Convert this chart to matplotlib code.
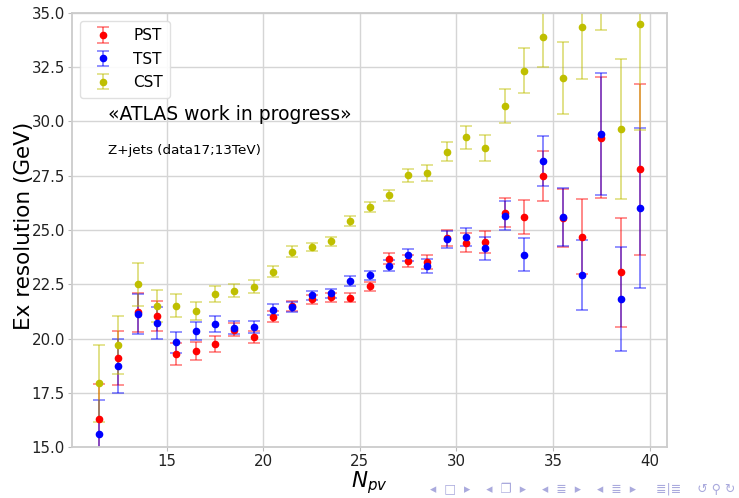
import matplotlib
matplotlib.use('Agg')
import matplotlib.pyplot as plt
import numpy as np

npv = np.arange(11.5, 40, 1.0)

pst = [16.3, 19.1, 21.2, 21.05, 19.3, 19.42, 19.75, 20.4, 20.05, 21.0,
       21.5, 21.8, 21.9, 21.88, 22.4, 23.68, 23.56, 23.53, 24.63, 24.42,
       24.45, 25.8, 25.6, 27.5, 25.55, 24.7, 29.25, 23.05, 27.8]
pst_err = [1.6, 1.25, 0.9, 0.7, 0.5, 0.42, 0.36, 0.3, 0.28, 0.25,
           0.22, 0.2, 0.2, 0.2, 0.22, 0.25, 0.28, 0.32, 0.38, 0.44,
           0.52, 0.68, 0.8, 1.15, 1.34, 1.72, 2.79, 2.5, 3.95]

tst = [15.6, 18.73, 21.13, 20.72, 19.82, 20.35, 20.67, 20.5, 20.53, 21.33,
       21.45, 21.99, 22.08, 22.64, 22.91, 23.36, 23.83, 23.33, 24.57, 24.69,
       24.16, 25.65, 23.86, 28.17, 25.6, 22.93, 29.41, 21.82, 26.01]
tst_err = [1.55, 1.25, 0.93, 0.72, 0.5, 0.41, 0.37, 0.3, 0.28, 0.25,
           0.22, 0.2, 0.2, 0.22, 0.22, 0.25, 0.28, 0.32, 0.38, 0.42,
           0.52, 0.67, 0.76, 1.16, 1.34, 1.62, 2.82, 2.38, 3.7]

cst = [17.93, 19.69, 22.5, 21.5, 21.5, 21.28, 22.05, 22.19, 22.39, 23.08,
       23.99, 24.22, 24.48, 25.41, 26.07, 26.6, 27.52, 27.63, 28.61, 29.27,
       28.78, 30.71, 32.34, 33.89, 32.0, 34.37, 36.7, 29.64, 34.48]
cst_err = [1.78, 1.33, 1.0, 0.73, 0.53, 0.41, 0.38, 0.3, 0.3, 0.26,
           0.25, 0.2, 0.2, 0.22, 0.22, 0.25, 0.3, 0.35, 0.45, 0.52,
           0.61, 0.78, 1.03, 1.39, 1.66, 2.43, 2.5, 3.23, 4.87]

series = [('PST', pst, pst_err, 'r'), ('TST', tst, tst_err, 'b'), ('CST', cst, cst_err, 'y')]

fig = plt.figure(figsize=(7.39, 4.98), dpi=100)
ax = fig.add_axes([0.0974, 0.1024, 0.8052, 0.8715])

for name, vals, errs, col in series:
    eb = ax.errorbar(npv, vals, yerr=errs, fmt='o', color=col, markersize=4.5,
                     capsize=4, elinewidth=1.3, capthick=1.2, label=name)
    for c in eb[1]:
        c.set_alpha(0.5)
    for lc in eb[2]:
        lc.set_alpha(0.5)

ax.set_ylim(15, 35)
ax.set_xlabel('$N_{pv}$', fontsize=15.5)
ax.set_ylabel('Ex resolution (GeV)', fontsize=15.5)
ax.xaxis.set_label_coords(0.5, -0.05)
ax.yaxis.set_label_coords(-0.064, 0.51)
ax.tick_params(labelsize=10.8, length=3, pad=2, color='#bbbbbb', labelcolor='#222222')
ax.grid(True, color='#d5d5d5', linewidth=1)
ax.set_axisbelow(True)
for s in ax.spines.values():
    s.set_color('#cccccc')
    s.set_linewidth(1.3)

ax.legend(loc='upper left', fontsize=11, borderpad=0.5, labelspacing=0.55,
          handletextpad=1.0, framealpha=0.9, edgecolor='#dddddd')

ax.text(0.06, 0.765, '«ATLAS work in progress»', transform=ax.transAxes,
        fontsize=13.5, va='center')
ax.text(0.06, 0.684, 'Z+jets (data17;13TeV)', transform=ax.transAxes,
        fontsize=9.7, va='center')

# beamer navigation symbols
fig.text(0.995, 0.006, '◂  □  ▸    ◂  ❐  ▸    ◂  ≣  ▸    ◂  ≣  ▸     ≣|≣    ↺ ⚲ ↻',
         fontsize=9, color='#aaaadd', ha='right', va='bottom')

fig.savefig('out.png', dpi=100)
